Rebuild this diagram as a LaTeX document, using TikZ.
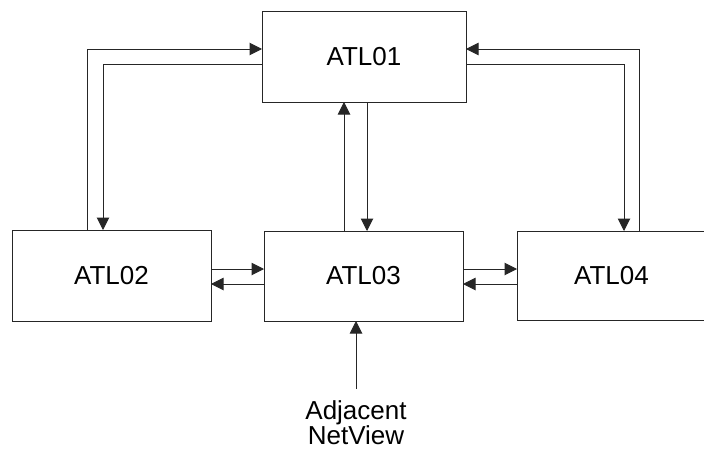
\documentclass[tikz,border=0pt]{standalone}
\usepackage{fontspec}
\setmainfont{Liberation Sans}
\usetikzlibrary{arrows.meta}
\begin{document}
\begin{tikzpicture}[x=1pt,y=-1pt,
  box/.style={draw=black!85,line width=1pt,inner sep=0pt,outer sep=0pt,font=\fontsize{26}{26}\selectfont},
  conn/.style={draw=black!85,line width=1pt},
  arr/.style={conn,-{Triangle[length=12.5pt,width=12.5pt]}}]
\useasboundingbox (0,0) rectangle (704,450);
\node[box,minimum width=204pt,minimum height=91pt] (ATL01) at (364,56.5) {ATL01};
\node[box,minimum width=199pt,minimum height=91pt] (ATL02) at (111.5,275.5) {ATL02};
\node[box,minimum width=199pt,minimum height=90pt] (ATL03) at (363.5,276) {ATL03};
\node[box,minimum width=189pt,minimum height=89pt] (ATL04) at (611.5,275.5) {ATL04};
\node[inner sep=0pt,outer sep=0pt,anchor=north,align=center,font=\fontsize{26}{25}\selectfont] (adj) at (356,401) {Adjacent\\NetView};
% column / row helpers
\coordinate (c1) at (87,49);
\coordinate (c2) at (103,64);
\coordinate (c3) at (344,0);
\coordinate (c4) at (367,0);
\coordinate (c5) at (639,49);
\coordinate (c6) at (624,64);
\coordinate (r1) at (0,269);
\coordinate (r2) at (0,284);
\coordinate (adjtop) at (356,389);
% ATL02 <-> ATL01
\draw[arr] (c1 |- ATL02.north) |- (ATL01.west |- c1);
\draw[arr] (ATL01.west |- c2) -| (c2 |- ATL02.north);
% ATL03 <-> ATL01
\draw[arr] (ATL03.north -| c3) -- (ATL01.south -| c3);
\draw[arr] (ATL01.south -| c4) -- (ATL03.north -| c4);
% ATL04 <-> ATL01
\draw[arr] (c5 |- ATL04.north) |- (ATL01.east |- c5);
\draw[arr] (ATL01.east |- c6) -| (c6 |- ATL04.north);
% ATL02 <-> ATL03
\draw[arr] (ATL02.east |- r1) -- (ATL03.west |- r1);
\draw[arr] (ATL03.west |- r2) -- (ATL02.east |- r2);
% ATL03 <-> ATL04
\draw[arr] (ATL03.east |- r1) -- (ATL04.west |- r1);
\draw[arr] (ATL04.west |- r2) -- (ATL03.east |- r2);
% Adjacent NetView
\draw[arr] (adjtop) -- (ATL03.south -| adjtop);
\end{tikzpicture}
\end{document}
